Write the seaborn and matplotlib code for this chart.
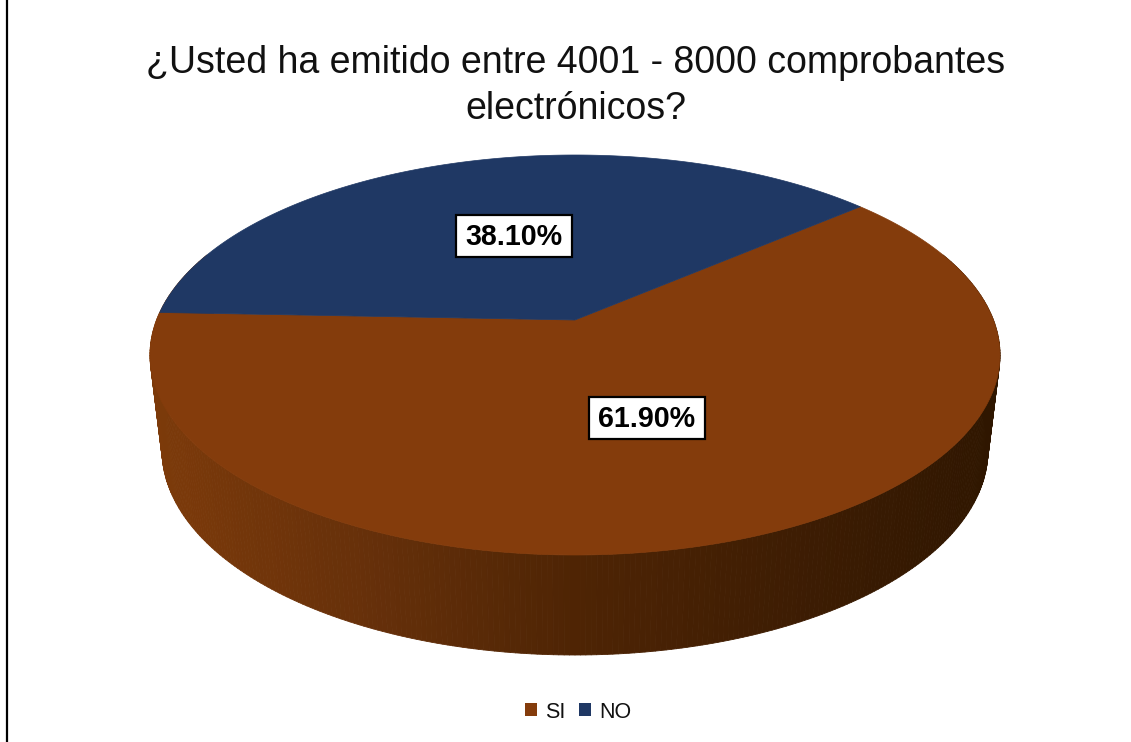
import numpy as np
import matplotlib
matplotlib.use("Agg")
import matplotlib.pyplot as plt
from matplotlib.patches import Polygon, Patch, Rectangle
from matplotlib.collections import PolyCollection
import seaborn as sns

# Data
categories = ["SI", "NO"]
values = [61.90, 38.10]
value_labels = ["61.90%", "38.10%"]
title_text = "¿Usted ha emitido entre 4001 - 8000 comprobantes\nelectrónicos?"
colors = ["#843c0c", "#1f3864"]
wall_stops = ["#7c3a0a", "#66300a", "#4e2404", "#3e1d03", "#2f1600"]

sns.set_theme(style="white")
plt.rcParams["font.family"] = ["Liberation Sans", "DejaVu Sans"]

W, H = 1131, 742
fig = plt.figure(figsize=(W / 100, H / 100), dpi=100, facecolor="white")
ax = fig.add_axes([0, 0, 1, 1])
ax.set_xlim(0, W)
ax.set_ylim(H, 0)
ax.axis("off")

# geometry of the tilted disc (pixel layout)
CX, CY, A, B = 575, 355, 425, 200
APEX_UP = 35
BX, BY, BA, BB = 575, 450, 413, 205
P = APEX_UP / B
A_PROJ = A * np.sqrt(1 - P ** 2)


def top_point(theta):
    """Perspective view of a unit-circle point on the pie's top face."""
    u, v = np.cos(theta), np.sin(theta)
    d = 1 + P * v
    return CX + A_PROJ * u / d, CY - (B * v + APEX_UP) / d


def wedge(t0, t1):
    ts = np.linspace(t0, t1, 300)
    x, y = top_point(ts)
    return np.column_stack([np.r_[CX, x], np.r_[CY - APEX_UP, y]])


# side wall: strips with a horizontal shading
ts = np.radians(np.linspace(150, 390, 321))
pal = sns.blend_palette(wall_stops, n_colors=100)
polys, fc = [], []
for t0, t1 in zip(ts[:-1], ts[1:]):
    tx0, ty0 = CX + A * np.cos(t0), CY - B * np.sin(t0)
    tx1, ty1 = CX + A * np.cos(t1), CY - B * np.sin(t1)
    bx0, by0 = BX + BA * np.cos(t0), BY - BB * np.sin(t0)
    bx1, by1 = BX + BA * np.cos(t1), BY - BB * np.sin(t1)
    polys.append([(tx0, ty0), (tx1, ty1), (bx1, by1), (bx0, by0)])
    k = np.clip(((bx0 + bx1) / 2 - 162) / (988 - 162), 0, 1)
    fc.append(pal[int(k * 99)])
ax.add_collection(PolyCollection(polys, facecolors=fc, edgecolors=fc, linewidths=0.6, zorder=1))

# top face from the values (NO wedge starts near 40.6 deg, goes counter-clockwise)
start = np.radians(40.6)
fractions = np.array(values) / sum(values)
no_end = start + fractions[1] * 2 * np.pi
si_end = no_end + fractions[0] * 2 * np.pi
ax.add_patch(Polygon(wedge(no_end, si_end), closed=True, fc=colors[0], ec=colors[0], lw=0.5, zorder=2))
ax.add_patch(Polygon(wedge(start, no_end), closed=True, fc=colors[1], ec=colors[1], lw=0.5, zorder=3))

# value labels
label_pos = [(647, 418), (513.5, 236)]
for (lx, ly), txt in zip(label_pos, value_labels):
    ax.add_patch(Rectangle((lx - 58, ly - 21), 116, 42, fc="white", ec="black", lw=1.6, zorder=5))
    ax.text(lx, ly + 1, txt, ha="center", va="center", fontsize=20.6, fontweight="bold", color="black", zorder=6)

# title
ax.text(576, 86, title_text, ha="center", va="center", fontsize=27, color="#111111", linespacing=1.35)

# left rule
ax.plot([7, 7], [0, H], color="black", lw=1.6, zorder=4)

# legend
handles = [Patch(fc=c, ec=c, lw=0) for c in colors]
ax.legend(handles, categories, loc="center", bbox_to_anchor=(578 / W, 1 - 712 / H), ncol=2, frameon=False,
          fontsize=15.5, handlelength=0.56, handleheight=0.56, handletextpad=0.4, columnspacing=0.6,
          borderpad=0, labelcolor="#111111")

fig.savefig("out.png", dpi=100, facecolor="white")
